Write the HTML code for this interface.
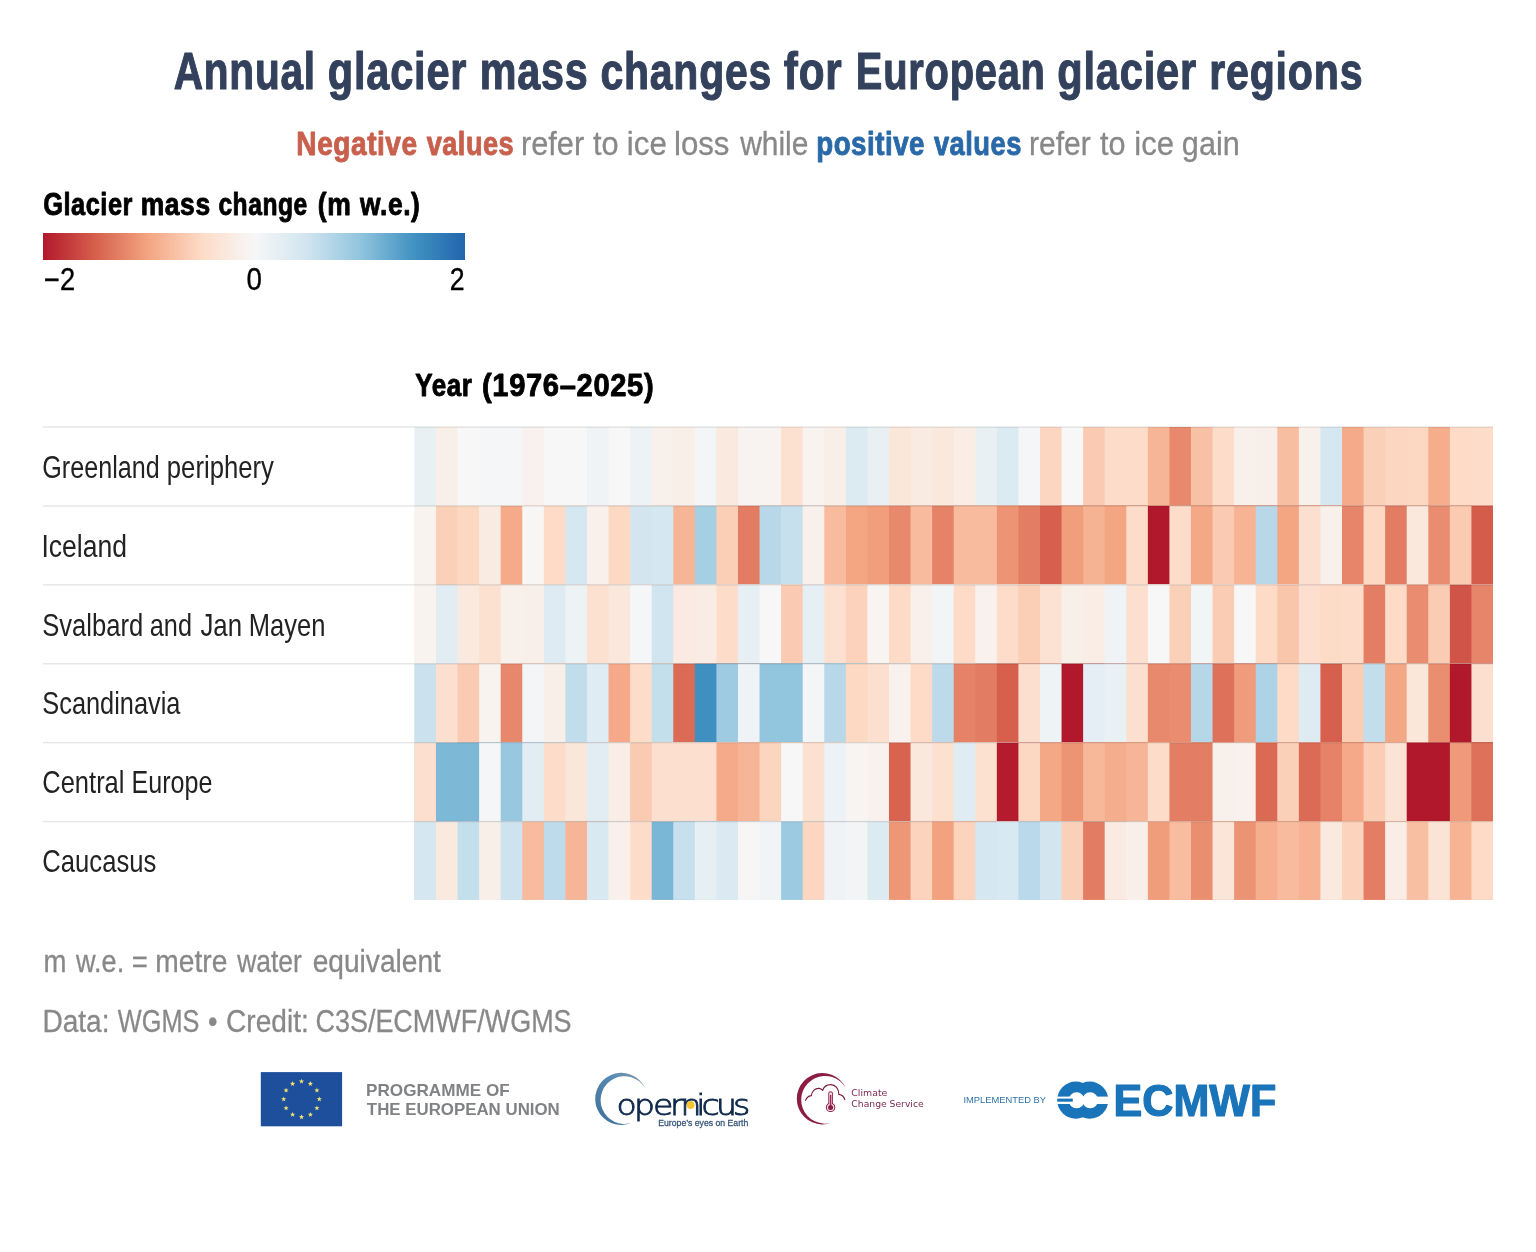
<!DOCTYPE html>
<html lang="en"><head><meta charset="utf-8"><title>Annual glacier mass changes for European glacier regions</title>
<style>html,body{margin:0;padding:0;background:#fff}body{width:1536px;height:1252px;overflow:hidden}svg{display:block}text{font-family:"Liberation Sans",sans-serif;white-space:pre}.b{font-weight:700}</style></head><body>
<svg width="1536" height="1252" viewBox="0 0 1536 1252">
<rect width="1536" height="1252" fill="#fff"/>
<defs><linearGradient id="g" x1="0" x2="1" y1="0" y2="0">
<stop offset="0" stop-color="#b2182b"/>
<stop offset="0.125" stop-color="#d6604d"/>
<stop offset="0.25" stop-color="#f4a582"/>
<stop offset="0.375" stop-color="#fddbc7"/>
<stop offset="0.5" stop-color="#f7f7f7"/>
<stop offset="0.625" stop-color="#d1e5f0"/>
<stop offset="0.75" stop-color="#92c5de"/>
<stop offset="0.875" stop-color="#4393c3"/>
<stop offset="1" stop-color="#2166ac"/>
</linearGradient></defs>
<g id="eu-flag">
<rect x="260.8" y="1072.1" width="81.3" height="54.2" fill="#1d4f9d"/>
<polygon points="301.50,1078.70 302.17,1080.48 304.07,1080.57 302.58,1081.75 303.09,1083.58 301.50,1082.53 299.91,1083.58 300.42,1081.75 298.93,1080.57 300.83,1080.48" fill="#f3e36d"/>
<polygon points="310.40,1081.08 311.07,1082.87 312.97,1082.95 311.48,1084.14 311.99,1085.97 310.40,1084.92 308.81,1085.97 309.32,1084.14 307.83,1082.95 309.73,1082.87" fill="#f3e36d"/>
<polygon points="316.92,1087.60 317.58,1089.38 319.48,1089.47 317.99,1090.65 318.50,1092.48 316.92,1091.43 315.33,1092.48 315.84,1090.65 314.35,1089.47 316.25,1089.38" fill="#f3e36d"/>
<polygon points="319.30,1096.50 319.97,1098.28 321.87,1098.37 320.38,1099.55 320.89,1101.38 319.30,1100.33 317.71,1101.38 318.22,1099.55 316.73,1098.37 318.63,1098.28" fill="#f3e36d"/>
<polygon points="316.92,1105.40 317.58,1107.18 319.48,1107.27 317.99,1108.45 318.50,1110.28 316.92,1109.23 315.33,1110.28 315.84,1108.45 314.35,1107.27 316.25,1107.18" fill="#f3e36d"/>
<polygon points="310.40,1111.92 311.07,1113.70 312.97,1113.78 311.48,1114.97 311.99,1116.80 310.40,1115.75 308.81,1116.80 309.32,1114.97 307.83,1113.78 309.73,1113.70" fill="#f3e36d"/>
<polygon points="301.50,1114.30 302.17,1116.08 304.07,1116.17 302.58,1117.35 303.09,1119.18 301.50,1118.13 299.91,1119.18 300.42,1117.35 298.93,1116.17 300.83,1116.08" fill="#f3e36d"/>
<polygon points="292.60,1111.92 293.27,1113.70 295.17,1113.78 293.68,1114.97 294.19,1116.80 292.60,1115.75 291.01,1116.80 291.52,1114.97 290.03,1113.78 291.93,1113.70" fill="#f3e36d"/>
<polygon points="286.08,1105.40 286.75,1107.18 288.65,1107.27 287.16,1108.45 287.67,1110.28 286.08,1109.23 284.50,1110.28 285.01,1108.45 283.52,1107.27 285.42,1107.18" fill="#f3e36d"/>
<polygon points="283.70,1096.50 284.37,1098.28 286.27,1098.37 284.78,1099.55 285.29,1101.38 283.70,1100.33 282.11,1101.38 282.62,1099.55 281.13,1098.37 283.03,1098.28" fill="#f3e36d"/>
<polygon points="286.08,1087.60 286.75,1089.38 288.65,1089.47 287.16,1090.65 287.67,1092.48 286.08,1091.43 284.50,1092.48 285.01,1090.65 283.52,1089.47 285.42,1089.38" fill="#f3e36d"/>
<polygon points="292.60,1081.08 293.27,1082.87 295.17,1082.95 293.68,1084.14 294.19,1085.97 292.60,1084.92 291.01,1085.97 291.52,1084.14 290.03,1082.95 291.93,1082.87" fill="#f3e36d"/>
</g>
<defs><linearGradient id="cg" x1="0" y1="1" x2="1" y2="0"><stop offset="0" stop-color="#3d6f98"/><stop offset="0.6" stop-color="#5489b3"/><stop offset="1" stop-color="#8a9aa8"/></linearGradient></defs>
<path d="M644.98 1087.93 A26.10 26.10 0 1 0 631.73 1122.83 A23.86 23.86 0 1 1 644.98 1087.93 Z" fill="url(#cg)"/>
<text transform="translate(0 1114.9) scale(1.17 1)" x="526.91 541.81 558.17 572.58 581.55 595.08 599.65 612.01 626.60" font-size="28.3" fill="#10294b" stroke="#10294b" stroke-width="0.85" style="font-family:'DejaVu Sans Light','DejaVu Sans',sans-serif;font-weight:200">opernicus</text>
<circle cx="690.6" cy="1105" r="3.9" fill="#f2c531"/>
<path d="M845.76 1088.05 A25.65 25.65 0 1 0 831.66 1122.69 A23.83 23.83 0 1 1 845.76 1088.05 Z" fill="#8b1c44"/>
<path d="M805.6 1100.4 C806.4 1097.6 808.6 1096.0 811.3 1095.6 C811.9 1091.0 815.4 1088.0 819.2 1088.4 C820.6 1088.6 821.8 1089.4 822.6 1090.5 C823.8 1086.8 827.0 1084.6 830.6 1084.6 C835.6 1084.6 838.8 1088.6 838.9 1094.4 C841.8 1094.9 844.0 1096.8 844.8 1099.6" fill="none" stroke="#7a1a3c" stroke-width="1.15" stroke-linecap="round" stroke-linejoin="round"/>
<path d="M830.6 1093.6 V1105" stroke="#8b1c44" stroke-width="4.6" stroke-linecap="round" fill="none"/>
<circle cx="830.6" cy="1107.4" r="4.7" fill="#8b1c44"/>
<path d="M830.6 1093.8 V1105.5" stroke="#f9dbe4" stroke-width="2.9" stroke-linecap="round" fill="none"/>
<circle cx="830.6" cy="1107.4" r="3.7" fill="#f9dbe4"/>
<path d="M830.6 1095.5 V1106" stroke="#9a2452" stroke-width="1.5" stroke-linecap="round" fill="none"/>
<circle cx="830.6" cy="1107.4" r="2.5" fill="#8b1c44"/>
<g id="ecmwf">
<circle cx="1075.8" cy="1100.1" r="18.6" fill="#1a74ba"/><circle cx="1089.7" cy="1100.1" r="18.6" fill="#1a74ba"/>
<circle cx="1076.6" cy="1100.3" r="8" fill="#fff"/><circle cx="1090.2" cy="1100.3" r="8" fill="#fff"/>
<rect x="1056" y="1096.6" width="18" height="7.4" fill="#fff"/>
<rect x="1094" y="1096.6" width="15" height="7.4" fill="#fff"/>
<rect x="1057.2" y="1098.6" width="15.6" height="3.1" fill="#1a74ba"/>
</g>
<text transform="translate(173.65 89.30) scale(0.7882 1)" font-size="51.5" fill="#33415c" class="b" stroke="#33415c" stroke-width="1.1" stroke-linejoin="round" style="letter-spacing:1px">Annual</text>
<text transform="translate(327.83 89.30) scale(0.8060 1)" font-size="51.5" fill="#33415c" class="b" stroke="#33415c" stroke-width="1.1" stroke-linejoin="round" style="letter-spacing:1px">glacier</text>
<text transform="translate(479.73 89.30) scale(0.8025 1)" font-size="51.5" fill="#33415c" class="b" stroke="#33415c" stroke-width="1.1" stroke-linejoin="round" style="letter-spacing:1px">mass</text>
<text transform="translate(600.45 89.30) scale(0.7949 1)" font-size="51.5" fill="#33415c" class="b" stroke="#33415c" stroke-width="1.1" stroke-linejoin="round" style="letter-spacing:1px">changes</text>
<text transform="translate(783.83 89.30) scale(0.8203 1)" font-size="51.5" fill="#33415c" class="b" stroke="#33415c" stroke-width="1.1" stroke-linejoin="round" style="letter-spacing:1px">for</text>
<text transform="translate(855.82 89.30) scale(0.7737 1)" font-size="51.5" fill="#33415c" class="b" stroke="#33415c" stroke-width="1.1" stroke-linejoin="round" style="letter-spacing:1px">European</text>
<text transform="translate(1057.23 89.30) scale(0.8077 1)" font-size="51.5" fill="#33415c" class="b" stroke="#33415c" stroke-width="1.1" stroke-linejoin="round" style="letter-spacing:1px">glacier</text>
<text transform="translate(1209.24 89.30) scale(0.7985 1)" font-size="51.5" fill="#33415c" class="b" stroke="#33415c" stroke-width="1.1" stroke-linejoin="round" style="letter-spacing:1px">regions</text>
<text transform="translate(296.37 155.10) scale(0.8523 1)" font-size="33" fill="#c8604d" class="b" stroke="#c8604d" stroke-width="0.9" stroke-linejoin="round" style="letter-spacing:0.6px">Negative</text>
<text transform="translate(426.66 155.10) scale(0.8236 1)" font-size="33" fill="#c8604d" class="b" stroke="#c8604d" stroke-width="0.9" stroke-linejoin="round" style="letter-spacing:0.6px">values</text>
<text transform="translate(520.94 155.10) scale(0.9319 1)" font-size="33" fill="#888888" stroke="#888888" stroke-width="0.3" stroke-linejoin="round">refer</text>
<text transform="translate(592.93 155.10) scale(0.9321 1)" font-size="33" fill="#888888" stroke="#888888" stroke-width="0.3" stroke-linejoin="round">to</text>
<text transform="translate(626.76 155.10) scale(0.9497 1)" font-size="33" fill="#888888" stroke="#888888" stroke-width="0.3" stroke-linejoin="round">ice</text>
<text transform="translate(674.02 155.10) scale(0.9451 1)" font-size="33" fill="#888888" stroke="#888888" stroke-width="0.3" stroke-linejoin="round">loss</text>
<text transform="translate(740.14 155.10) scale(0.9088 1)" font-size="33" fill="#888888" stroke="#888888" stroke-width="0.3" stroke-linejoin="round">while</text>
<text transform="translate(816.19 155.10) scale(0.8402 1)" font-size="33" fill="#2a69a8" class="b" stroke="#2a69a8" stroke-width="0.9" stroke-linejoin="round" style="letter-spacing:0.6px">positive</text>
<text transform="translate(933.92 155.10) scale(0.8279 1)" font-size="33" fill="#2a69a8" class="b" stroke="#2a69a8" stroke-width="0.9" stroke-linejoin="round" style="letter-spacing:0.6px">values</text>
<text transform="translate(1029.09 155.10) scale(0.9096 1)" font-size="33" fill="#888888" stroke="#888888" stroke-width="0.3" stroke-linejoin="round">refer</text>
<text transform="translate(1099.88 155.10) scale(0.9284 1)" font-size="33" fill="#888888" stroke="#888888" stroke-width="0.3" stroke-linejoin="round">to</text>
<text transform="translate(1134.28 155.10) scale(0.9394 1)" font-size="33" fill="#888888" stroke="#888888" stroke-width="0.3" stroke-linejoin="round">ice</text>
<text transform="translate(1181.85 155.10) scale(0.9280 1)" font-size="33" fill="#888888" stroke="#888888" stroke-width="0.3" stroke-linejoin="round">gain</text>
<text transform="translate(43.17 215.20) scale(0.7927 1)" font-size="32" fill="#000000" class="b" stroke="#000000" stroke-width="0.9" stroke-linejoin="round" style="letter-spacing:0.7px">Glacier</text>
<text transform="translate(140.71 215.20) scale(0.8269 1)" font-size="32" fill="#000000" class="b" stroke="#000000" stroke-width="0.9" stroke-linejoin="round" style="letter-spacing:0.7px">mass</text>
<text transform="translate(218.38 215.20) scale(0.7700 1)" font-size="32" fill="#000000" class="b" stroke="#000000" stroke-width="0.9" stroke-linejoin="round" style="letter-spacing:0.7px">change</text>
<text transform="translate(317.73 215.20) scale(0.8291 1)" font-size="32" fill="#000000" class="b" stroke="#000000" stroke-width="0.9" stroke-linejoin="round" style="letter-spacing:0.7px">(m</text>
<text transform="translate(359.97 215.20) scale(0.8234 1)" font-size="32" fill="#000000" class="b" stroke="#000000" stroke-width="0.9" stroke-linejoin="round" style="letter-spacing:0.7px">w.e.)</text>
<text transform="translate(44.01 290.00) scale(0.8972 1)" font-size="30.5" fill="#000000" stroke="#000000" stroke-width="0.35" stroke-linejoin="round">−2</text>
<text transform="translate(246.42 290.00) scale(0.9091 1)" font-size="30.5" fill="#000000" stroke="#000000" stroke-width="0.35" stroke-linejoin="round">0</text>
<text transform="translate(449.84 290.00) scale(0.8780 1)" font-size="30.5" fill="#000000" stroke="#000000" stroke-width="0.35" stroke-linejoin="round">2</text>
<text transform="translate(415.26 396.00) scale(0.8141 1)" font-size="32" fill="#000000" class="b" stroke="#000000" stroke-width="0.9" stroke-linejoin="round" style="letter-spacing:0.7px">Year</text>
<text transform="translate(481.94 396.00) scale(0.9111 1)" font-size="32" fill="#000000" class="b" stroke="#000000" stroke-width="0.9" stroke-linejoin="round" style="letter-spacing:0.7px">(1976–2025)</text>
<text transform="translate(42.28 477.90) scale(0.8113 1)" font-size="31" fill="#222222">Greenland</text>
<text transform="translate(166.84 477.90) scale(0.8287 1)" font-size="31" fill="#222222">periphery</text>
<text transform="translate(41.44 556.75) scale(0.8567 1)" font-size="31" fill="#222222">Iceland</text>
<text transform="translate(42.26 635.60) scale(0.8253 1)" font-size="31" fill="#222222">Svalbard</text>
<text transform="translate(149.78 635.60) scale(0.8165 1)" font-size="31" fill="#222222">and</text>
<text transform="translate(200.38 635.60) scale(0.8337 1)" font-size="31" fill="#222222">Jan</text>
<text transform="translate(248.74 635.60) scale(0.8243 1)" font-size="31" fill="#222222">Mayen</text>
<text transform="translate(42.37 714.45) scale(0.8179 1)" font-size="31" fill="#222222">Scandinavia</text>
<text transform="translate(42.27 793.30) scale(0.8229 1)" font-size="31" fill="#222222">Central</text>
<text transform="translate(131.48 793.30) scale(0.8099 1)" font-size="31" fill="#222222">Europe</text>
<text transform="translate(42.36 872.15) scale(0.8266 1)" font-size="31" fill="#222222">Caucasus</text>
<text transform="translate(43.46 972.20) scale(0.8882 1)" font-size="31" fill="#888888" stroke="#888888" stroke-width="0.3" stroke-linejoin="round">m</text>
<text transform="translate(76.03 972.20) scale(0.8735 1)" font-size="31" fill="#888888" stroke="#888888" stroke-width="0.3" stroke-linejoin="round">w.e.</text>
<text transform="translate(131.86 972.20) scale(0.8882 1)" font-size="31" fill="#888888" stroke="#888888" stroke-width="0.3" stroke-linejoin="round">=</text>
<text transform="translate(155.31 972.20) scale(0.9112 1)" font-size="31" fill="#888888" stroke="#888888" stroke-width="0.3" stroke-linejoin="round">metre</text>
<text transform="translate(237.13 972.20) scale(0.8537 1)" font-size="31" fill="#888888" stroke="#888888" stroke-width="0.3" stroke-linejoin="round">water</text>
<text transform="translate(312.70 972.20) scale(0.9073 1)" font-size="31" fill="#888888" stroke="#888888" stroke-width="0.3" stroke-linejoin="round">equivalent</text>
<text transform="translate(42.47 1032.00) scale(0.9051 1)" font-size="31" fill="#888888" stroke="#888888" stroke-width="0.3" stroke-linejoin="round">Data:</text>
<text transform="translate(117.82 1032.00) scale(0.8168 1)" font-size="31" fill="#888888" stroke="#888888" stroke-width="0.3" stroke-linejoin="round">WGMS</text>
<text transform="translate(207.93 1032.00) scale(0.8692 1)" font-size="31" fill="#888888" stroke="#888888" stroke-width="0.3" stroke-linejoin="round">•</text>
<text transform="translate(226.08 1032.00) scale(0.9061 1)" font-size="31" fill="#888888" stroke="#888888" stroke-width="0.3" stroke-linejoin="round">Credit:</text>
<text transform="translate(315.43 1032.00) scale(0.8701 1)" font-size="31" fill="#888888" stroke="#888888" stroke-width="0.3" stroke-linejoin="round">C3S/ECMWF/WGMS</text>
<text transform="translate(366.07 1095.80) scale(1.0320 1)" font-size="16.6" fill="#808285" class="b">PROGRAMME OF</text>
<text transform="translate(366.85 1115.40) scale(1.0167 1)" font-size="16.6" fill="#808285" class="b">THE EUROPEAN UNION</text>
<text transform="translate(658.25 1125.80) scale(0.9144 1)" font-size="9.5" fill="#35557a" stroke="#35557a" stroke-width="0.3" stroke-linejoin="round">Europe’s eyes on Earth</text>
<text transform="translate(851.33 1095.90) scale(1.1443 1)" font-size="8.2" fill="#7d2a4e" style="font-family:'DejaVu Sans',sans-serif">Climate</text>
<text transform="translate(851.34 1107.40) scale(1.1273 1)" font-size="8.2" fill="#7d2a4e" style="font-family:'DejaVu Sans',sans-serif">Change Service</text>
<text transform="translate(963.44 1103.20) scale(0.9638 1)" font-size="9.7" fill="#2f72a6">IMPLEMENTED BY</text>
<text transform="translate(1113.62 1116.00) scale(0.9904 1)" font-size="43.5" fill="#1a74ba" class="b" stroke="#1a74ba" stroke-width="1.2" stroke-linejoin="round">ECMWF</text>
<rect x="43" y="233" width="422" height="27" fill="url(#g)"/>
<g>
<rect x="414.40" y="427.00" width="1078.60" height="472.90" fill="#e8f0f4"/>
<rect x="435.97" y="427.00" width="1057.03" height="472.90" fill="#f9efe9"/>
<rect x="457.54" y="427.00" width="1035.46" height="472.90" fill="#f7f7f7"/>
<rect x="479.12" y="427.00" width="1013.88" height="472.90" fill="#f5f6f7"/>
<rect x="500.69" y="427.00" width="992.31" height="472.90" fill="#f5f6f7"/>
<rect x="522.26" y="427.00" width="970.74" height="472.90" fill="#f8f1ed"/>
<rect x="543.83" y="427.00" width="949.17" height="472.90" fill="#f7f7f7"/>
<rect x="565.40" y="427.00" width="927.60" height="472.90" fill="#f7f7f7"/>
<rect x="586.98" y="427.00" width="906.02" height="472.90" fill="#eff3f6"/>
<rect x="608.55" y="427.00" width="884.45" height="472.90" fill="#f7f7f7"/>
<rect x="630.12" y="427.00" width="862.88" height="472.90" fill="#ecf2f5"/>
<rect x="651.69" y="427.00" width="841.31" height="472.90" fill="#f8f0eb"/>
<rect x="673.26" y="427.00" width="819.74" height="472.90" fill="#f9efe9"/>
<rect x="694.84" y="427.00" width="798.16" height="472.90" fill="#f3f5f6"/>
<rect x="716.41" y="427.00" width="776.59" height="472.90" fill="#fae9df"/>
<rect x="737.98" y="427.00" width="755.02" height="472.90" fill="#f8f3f0"/>
<rect x="759.55" y="427.00" width="733.45" height="472.90" fill="#f8f3f0"/>
<rect x="781.12" y="427.00" width="711.88" height="472.90" fill="#fce1d1"/>
<rect x="802.70" y="427.00" width="690.30" height="472.90" fill="#f8f3ef"/>
<rect x="824.27" y="427.00" width="668.73" height="472.90" fill="#f9efe9"/>
<rect x="845.84" y="427.00" width="647.16" height="472.90" fill="#dceaf2"/>
<rect x="867.41" y="427.00" width="625.59" height="472.90" fill="#e8f0f4"/>
<rect x="888.98" y="427.00" width="604.02" height="472.90" fill="#fbe6da"/>
<rect x="910.56" y="427.00" width="582.44" height="472.90" fill="#faebe2"/>
<rect x="932.13" y="427.00" width="560.87" height="472.90" fill="#fae8dd"/>
<rect x="953.70" y="427.00" width="539.30" height="472.90" fill="#f9ede6"/>
<rect x="975.27" y="427.00" width="517.73" height="472.90" fill="#e8f0f4"/>
<rect x="996.84" y="427.00" width="496.16" height="472.90" fill="#dceaf2"/>
<rect x="1018.42" y="427.00" width="474.58" height="472.90" fill="#f5f6f7"/>
<rect x="1039.99" y="427.00" width="453.01" height="472.90" fill="#fcd6c0"/>
<rect x="1061.56" y="427.00" width="431.44" height="472.90" fill="#f7f7f7"/>
<rect x="1083.13" y="427.00" width="409.87" height="472.90" fill="#facbb2"/>
<rect x="1104.70" y="427.00" width="388.30" height="472.90" fill="#fddcc9"/>
<rect x="1126.28" y="427.00" width="366.72" height="472.90" fill="#fddcc9"/>
<rect x="1147.85" y="427.00" width="345.15" height="472.90" fill="#f7b597"/>
<rect x="1169.42" y="427.00" width="323.58" height="472.90" fill="#e8896d"/>
<rect x="1190.99" y="427.00" width="302.01" height="472.90" fill="#f8c0a4"/>
<rect x="1212.56" y="427.00" width="280.44" height="472.90" fill="#fddcc9"/>
<rect x="1234.14" y="427.00" width="258.86" height="472.90" fill="#f8f0eb"/>
<rect x="1255.71" y="427.00" width="237.29" height="472.90" fill="#f9efea"/>
<rect x="1277.28" y="427.00" width="215.72" height="472.90" fill="#f8bea2"/>
<rect x="1298.85" y="427.00" width="194.15" height="472.90" fill="#f8f0eb"/>
<rect x="1320.42" y="427.00" width="172.58" height="472.90" fill="#d5e7f1"/>
<rect x="1342.00" y="427.00" width="151.00" height="472.90" fill="#f5aa89"/>
<rect x="1363.57" y="427.00" width="129.43" height="472.90" fill="#fbd0b9"/>
<rect x="1385.14" y="427.00" width="107.86" height="472.90" fill="#fcd6c0"/>
<rect x="1406.71" y="427.00" width="86.29" height="472.90" fill="#fcd7c1"/>
<rect x="1428.28" y="427.00" width="64.72" height="472.90" fill="#f5ad8c"/>
<rect x="1449.86" y="427.00" width="43.14" height="472.90" fill="#fddbc7"/>
<rect x="1471.43" y="427.00" width="21.57" height="472.90" fill="#fddcc9"/>
<rect x="414.40" y="505.92" width="1078.60" height="393.98" fill="#f8f3ef"/>
<rect x="435.97" y="505.92" width="1057.03" height="393.98" fill="#fbd0b9"/>
<rect x="457.54" y="505.92" width="1035.46" height="393.98" fill="#fcd8c3"/>
<rect x="479.12" y="505.92" width="1013.88" height="393.98" fill="#faebe2"/>
<rect x="500.69" y="505.92" width="992.31" height="393.98" fill="#f5aa89"/>
<rect x="522.26" y="505.92" width="970.74" height="393.98" fill="#f7f6f5"/>
<rect x="543.83" y="505.92" width="949.17" height="393.98" fill="#fddbc7"/>
<rect x="565.40" y="505.92" width="927.60" height="393.98" fill="#d5e7f1"/>
<rect x="586.98" y="505.92" width="906.02" height="393.98" fill="#f9f0eb"/>
<rect x="608.55" y="505.92" width="884.45" height="393.98" fill="#fdd9c4"/>
<rect x="630.12" y="505.92" width="862.88" height="393.98" fill="#d3e6f0"/>
<rect x="651.69" y="505.92" width="841.31" height="393.98" fill="#d5e7f1"/>
<rect x="673.26" y="505.92" width="819.74" height="393.98" fill="#f7b597"/>
<rect x="694.84" y="505.92" width="798.16" height="393.98" fill="#a5cfe3"/>
<rect x="716.41" y="505.92" width="776.59" height="393.98" fill="#fbceb6"/>
<rect x="737.98" y="505.92" width="755.02" height="393.98" fill="#e27c62"/>
<rect x="759.55" y="505.92" width="733.45" height="393.98" fill="#b8d8e9"/>
<rect x="781.12" y="505.92" width="711.88" height="393.98" fill="#c7e0ed"/>
<rect x="802.70" y="505.92" width="690.30" height="393.98" fill="#f9f0eb"/>
<rect x="824.27" y="505.92" width="668.73" height="393.98" fill="#f8bb9e"/>
<rect x="845.84" y="505.92" width="647.16" height="393.98" fill="#f4a582"/>
<rect x="867.41" y="505.92" width="625.59" height="393.98" fill="#f19e7d"/>
<rect x="888.98" y="505.92" width="604.02" height="393.98" fill="#e8896d"/>
<rect x="910.56" y="505.92" width="582.44" height="393.98" fill="#f8bb9e"/>
<rect x="932.13" y="505.92" width="560.87" height="393.98" fill="#e58268"/>
<rect x="953.70" y="505.92" width="539.30" height="393.98" fill="#f8bb9e"/>
<rect x="975.27" y="505.92" width="517.73" height="393.98" fill="#f8bb9e"/>
<rect x="996.84" y="505.92" width="496.16" height="393.98" fill="#ed9475"/>
<rect x="1018.42" y="505.92" width="474.58" height="393.98" fill="#e37e64"/>
<rect x="1039.99" y="505.92" width="453.01" height="393.98" fill="#d6604d"/>
<rect x="1061.56" y="505.92" width="431.44" height="393.98" fill="#f19e7d"/>
<rect x="1083.13" y="505.92" width="409.87" height="393.98" fill="#f6b394"/>
<rect x="1104.70" y="505.92" width="388.30" height="393.98" fill="#f4a582"/>
<rect x="1126.28" y="505.92" width="366.72" height="393.98" fill="#fddcc9"/>
<rect x="1147.85" y="505.92" width="345.15" height="393.98" fill="#b2182b"/>
<rect x="1169.42" y="505.92" width="323.58" height="393.98" fill="#fddcc9"/>
<rect x="1190.99" y="505.92" width="302.01" height="393.98" fill="#f5a886"/>
<rect x="1212.56" y="505.92" width="280.44" height="393.98" fill="#facbb2"/>
<rect x="1234.14" y="505.92" width="258.86" height="393.98" fill="#f7b495"/>
<rect x="1255.71" y="505.92" width="237.29" height="393.98" fill="#b8d8e9"/>
<rect x="1277.28" y="505.92" width="215.72" height="393.98" fill="#f4a582"/>
<rect x="1298.85" y="505.92" width="194.15" height="393.98" fill="#fcdfce"/>
<rect x="1320.42" y="505.92" width="172.58" height="393.98" fill="#f8f0eb"/>
<rect x="1342.00" y="505.92" width="151.00" height="393.98" fill="#e6856a"/>
<rect x="1363.57" y="505.92" width="129.43" height="393.98" fill="#fdd9c4"/>
<rect x="1385.14" y="505.92" width="107.86" height="393.98" fill="#e27c62"/>
<rect x="1406.71" y="505.92" width="86.29" height="393.98" fill="#fae8dd"/>
<rect x="1428.28" y="505.92" width="64.72" height="393.98" fill="#e98c6f"/>
<rect x="1449.86" y="505.92" width="43.14" height="393.98" fill="#facab1"/>
<rect x="1471.43" y="505.92" width="21.57" height="393.98" fill="#d45c4b"/>
<rect x="414.40" y="584.84" width="1078.60" height="315.06" fill="#f8f3ef"/>
<rect x="435.97" y="584.84" width="1057.03" height="315.06" fill="#e2edf3"/>
<rect x="457.54" y="584.84" width="1035.46" height="315.06" fill="#fae9df"/>
<rect x="479.12" y="584.84" width="1013.88" height="315.06" fill="#fce1d1"/>
<rect x="500.69" y="584.84" width="992.31" height="315.06" fill="#f8f0eb"/>
<rect x="522.26" y="584.84" width="970.74" height="315.06" fill="#f9efe9"/>
<rect x="543.83" y="584.84" width="949.17" height="315.06" fill="#dfebf3"/>
<rect x="565.40" y="584.84" width="927.60" height="315.06" fill="#edf2f5"/>
<rect x="586.98" y="584.84" width="906.02" height="315.06" fill="#fce1d1"/>
<rect x="608.55" y="584.84" width="884.45" height="315.06" fill="#fae8dd"/>
<rect x="630.12" y="584.84" width="862.88" height="315.06" fill="#f5f6f7"/>
<rect x="651.69" y="584.84" width="841.31" height="315.06" fill="#d1e5f0"/>
<rect x="673.26" y="584.84" width="819.74" height="315.06" fill="#faeae1"/>
<rect x="694.84" y="584.84" width="798.16" height="315.06" fill="#f9ece4"/>
<rect x="716.41" y="584.84" width="776.59" height="315.06" fill="#fdddca"/>
<rect x="737.98" y="584.84" width="755.02" height="315.06" fill="#e6eff4"/>
<rect x="759.55" y="584.84" width="733.45" height="315.06" fill="#f7f7f7"/>
<rect x="781.12" y="584.84" width="711.88" height="315.06" fill="#facbb2"/>
<rect x="802.70" y="584.84" width="690.30" height="315.06" fill="#e6eff4"/>
<rect x="824.27" y="584.84" width="668.73" height="315.06" fill="#fce1d1"/>
<rect x="845.84" y="584.84" width="647.16" height="315.06" fill="#fcd2bc"/>
<rect x="867.41" y="584.84" width="625.59" height="315.06" fill="#f8f4f1"/>
<rect x="888.98" y="584.84" width="604.02" height="315.06" fill="#fddbc7"/>
<rect x="910.56" y="584.84" width="582.44" height="315.06" fill="#f9f0eb"/>
<rect x="932.13" y="584.84" width="560.87" height="315.06" fill="#f2f5f6"/>
<rect x="953.70" y="584.84" width="539.30" height="315.06" fill="#fddbc7"/>
<rect x="975.27" y="584.84" width="517.73" height="315.06" fill="#f8f1ed"/>
<rect x="996.84" y="584.84" width="496.16" height="315.06" fill="#fdddca"/>
<rect x="1018.42" y="584.84" width="474.58" height="315.06" fill="#fbceb6"/>
<rect x="1039.99" y="584.84" width="453.01" height="315.06" fill="#fce2d3"/>
<rect x="1061.56" y="584.84" width="431.44" height="315.06" fill="#f9efe9"/>
<rect x="1083.13" y="584.84" width="409.87" height="315.06" fill="#f9ede6"/>
<rect x="1104.70" y="584.84" width="388.30" height="315.06" fill="#eff3f6"/>
<rect x="1126.28" y="584.84" width="366.72" height="315.06" fill="#fcdfcf"/>
<rect x="1147.85" y="584.84" width="345.15" height="315.06" fill="#f7f7f7"/>
<rect x="1169.42" y="584.84" width="323.58" height="315.06" fill="#fbd0b9"/>
<rect x="1190.99" y="584.84" width="302.01" height="315.06" fill="#f2f5f6"/>
<rect x="1212.56" y="584.84" width="280.44" height="315.06" fill="#faccb4"/>
<rect x="1234.14" y="584.84" width="258.86" height="315.06" fill="#f7f7f7"/>
<rect x="1255.71" y="584.84" width="237.29" height="315.06" fill="#fddbc7"/>
<rect x="1277.28" y="584.84" width="215.72" height="315.06" fill="#f9c5ab"/>
<rect x="1298.85" y="584.84" width="194.15" height="315.06" fill="#fcdfcf"/>
<rect x="1320.42" y="584.84" width="172.58" height="315.06" fill="#fddbc7"/>
<rect x="1342.00" y="584.84" width="151.00" height="315.06" fill="#fdddca"/>
<rect x="1363.57" y="584.84" width="129.43" height="315.06" fill="#e37e64"/>
<rect x="1385.14" y="584.84" width="107.86" height="315.06" fill="#fddbc7"/>
<rect x="1406.71" y="584.84" width="86.29" height="315.06" fill="#e98c6f"/>
<rect x="1428.28" y="584.84" width="64.72" height="315.06" fill="#faccb4"/>
<rect x="1449.86" y="584.84" width="43.14" height="315.06" fill="#d05448"/>
<rect x="1471.43" y="584.84" width="21.57" height="315.06" fill="#e6856a"/>
<rect x="414.40" y="663.76" width="1078.60" height="236.14" fill="#cbe2ee"/>
<rect x="435.97" y="663.76" width="1057.03" height="236.14" fill="#fcdfcf"/>
<rect x="457.54" y="663.76" width="1035.46" height="236.14" fill="#facbb2"/>
<rect x="479.12" y="663.76" width="1013.88" height="236.14" fill="#f8f3ef"/>
<rect x="500.69" y="663.76" width="992.31" height="236.14" fill="#e7876b"/>
<rect x="522.26" y="663.76" width="970.74" height="236.14" fill="#f3f5f6"/>
<rect x="543.83" y="663.76" width="949.17" height="236.14" fill="#f9efe9"/>
<rect x="565.40" y="663.76" width="927.60" height="236.14" fill="#c1ddeb"/>
<rect x="586.98" y="663.76" width="906.02" height="236.14" fill="#e0ecf3"/>
<rect x="608.55" y="663.76" width="884.45" height="236.14" fill="#f5a988"/>
<rect x="630.12" y="663.76" width="862.88" height="236.14" fill="#fdddca"/>
<rect x="651.69" y="663.76" width="841.31" height="236.14" fill="#c4dfec"/>
<rect x="673.26" y="663.76" width="819.74" height="236.14" fill="#db6b55"/>
<rect x="694.84" y="663.76" width="798.16" height="236.14" fill="#408fc1"/>
<rect x="716.41" y="663.76" width="776.59" height="236.14" fill="#9fcbe2"/>
<rect x="737.98" y="663.76" width="755.02" height="236.14" fill="#eff3f6"/>
<rect x="759.55" y="663.76" width="733.45" height="236.14" fill="#92c5de"/>
<rect x="781.12" y="663.76" width="711.88" height="236.14" fill="#92c5de"/>
<rect x="802.70" y="663.76" width="690.30" height="236.14" fill="#f3f5f6"/>
<rect x="824.27" y="663.76" width="668.73" height="236.14" fill="#b8d8e9"/>
<rect x="845.84" y="663.76" width="647.16" height="236.14" fill="#fdd9c4"/>
<rect x="867.41" y="663.76" width="625.59" height="236.14" fill="#fcdfcf"/>
<rect x="888.98" y="663.76" width="604.02" height="236.14" fill="#f8f1ed"/>
<rect x="910.56" y="663.76" width="582.44" height="236.14" fill="#fddbc7"/>
<rect x="932.13" y="663.76" width="560.87" height="236.14" fill="#bcdaea"/>
<rect x="953.70" y="663.76" width="539.30" height="236.14" fill="#e58268"/>
<rect x="975.27" y="663.76" width="517.73" height="236.14" fill="#e27c62"/>
<rect x="996.84" y="663.76" width="496.16" height="236.14" fill="#d6604d"/>
<rect x="1018.42" y="663.76" width="474.58" height="236.14" fill="#fcdfcf"/>
<rect x="1039.99" y="663.76" width="453.01" height="236.14" fill="#eef3f5"/>
<rect x="1061.56" y="663.76" width="431.44" height="236.14" fill="#b2182b"/>
<rect x="1083.13" y="663.76" width="409.87" height="236.14" fill="#e4eef4"/>
<rect x="1104.70" y="663.76" width="388.30" height="236.14" fill="#eaf1f5"/>
<rect x="1126.28" y="663.76" width="366.72" height="236.14" fill="#fcdfcf"/>
<rect x="1147.85" y="663.76" width="345.15" height="236.14" fill="#e8896d"/>
<rect x="1169.42" y="663.76" width="323.58" height="236.14" fill="#e98c6f"/>
<rect x="1190.99" y="663.76" width="302.01" height="236.14" fill="#b5d7e8"/>
<rect x="1212.56" y="663.76" width="280.44" height="236.14" fill="#dd715a"/>
<rect x="1234.14" y="663.76" width="258.86" height="236.14" fill="#f09b7b"/>
<rect x="1255.71" y="663.76" width="237.29" height="236.14" fill="#aed3e6"/>
<rect x="1277.28" y="663.76" width="215.72" height="236.14" fill="#fddbc7"/>
<rect x="1298.85" y="663.76" width="194.15" height="236.14" fill="#deebf2"/>
<rect x="1320.42" y="663.76" width="172.58" height="236.14" fill="#d6604d"/>
<rect x="1342.00" y="663.76" width="151.00" height="236.14" fill="#fbcdb5"/>
<rect x="1363.57" y="663.76" width="129.43" height="236.14" fill="#c2ddec"/>
<rect x="1385.14" y="663.76" width="107.86" height="236.14" fill="#f4a785"/>
<rect x="1406.71" y="663.76" width="86.29" height="236.14" fill="#fbe6da"/>
<rect x="1428.28" y="663.76" width="64.72" height="236.14" fill="#ea8e70"/>
<rect x="1449.86" y="663.76" width="43.14" height="236.14" fill="#b2182b"/>
<rect x="1471.43" y="663.76" width="21.57" height="236.14" fill="#fcdfcf"/>
<rect x="414.40" y="742.68" width="1078.60" height="157.22" fill="#fcdfcf"/>
<rect x="435.97" y="742.68" width="1057.03" height="157.22" fill="#7db8d7"/>
<rect x="457.54" y="742.68" width="1035.46" height="157.22" fill="#7db8d7"/>
<rect x="479.12" y="742.68" width="1013.88" height="157.22" fill="#f5f6f7"/>
<rect x="500.69" y="742.68" width="992.31" height="157.22" fill="#98c8e0"/>
<rect x="522.26" y="742.68" width="970.74" height="157.22" fill="#e2edf3"/>
<rect x="543.83" y="742.68" width="949.17" height="157.22" fill="#fdddca"/>
<rect x="565.40" y="742.68" width="927.60" height="157.22" fill="#fbe6da"/>
<rect x="586.98" y="742.68" width="906.02" height="157.22" fill="#e2edf3"/>
<rect x="608.55" y="742.68" width="884.45" height="157.22" fill="#f9ede6"/>
<rect x="630.12" y="742.68" width="862.88" height="157.22" fill="#facab1"/>
<rect x="651.69" y="742.68" width="841.31" height="157.22" fill="#fcdfcf"/>
<rect x="673.26" y="742.68" width="819.74" height="157.22" fill="#fcdfcf"/>
<rect x="694.84" y="742.68" width="798.16" height="157.22" fill="#fcdfcf"/>
<rect x="716.41" y="742.68" width="776.59" height="157.22" fill="#f5ab8a"/>
<rect x="737.98" y="742.68" width="755.02" height="157.22" fill="#f7b597"/>
<rect x="759.55" y="742.68" width="733.45" height="157.22" fill="#fcd5bf"/>
<rect x="781.12" y="742.68" width="711.88" height="157.22" fill="#f7f7f7"/>
<rect x="802.70" y="742.68" width="690.30" height="157.22" fill="#fce1d1"/>
<rect x="824.27" y="742.68" width="668.73" height="157.22" fill="#ecf2f5"/>
<rect x="845.84" y="742.68" width="647.16" height="157.22" fill="#f8f4f2"/>
<rect x="867.41" y="742.68" width="625.59" height="157.22" fill="#f8f1ed"/>
<rect x="888.98" y="742.68" width="604.02" height="157.22" fill="#d86450"/>
<rect x="910.56" y="742.68" width="582.44" height="157.22" fill="#fae8dd"/>
<rect x="932.13" y="742.68" width="560.87" height="157.22" fill="#fce1d1"/>
<rect x="953.70" y="742.68" width="539.30" height="157.22" fill="#e0ecf3"/>
<rect x="975.27" y="742.68" width="517.73" height="157.22" fill="#fce1d1"/>
<rect x="996.84" y="742.68" width="496.16" height="157.22" fill="#b41c2d"/>
<rect x="1018.42" y="742.68" width="474.58" height="157.22" fill="#fcd8c3"/>
<rect x="1039.99" y="742.68" width="453.01" height="157.22" fill="#f5a886"/>
<rect x="1061.56" y="742.68" width="431.44" height="157.22" fill="#ed9475"/>
<rect x="1083.13" y="742.68" width="409.87" height="157.22" fill="#f7b799"/>
<rect x="1104.70" y="742.68" width="388.30" height="157.22" fill="#f5ae8d"/>
<rect x="1126.28" y="742.68" width="366.72" height="157.22" fill="#f7b597"/>
<rect x="1147.85" y="742.68" width="345.15" height="157.22" fill="#fdddca"/>
<rect x="1169.42" y="742.68" width="323.58" height="157.22" fill="#e37e64"/>
<rect x="1190.99" y="742.68" width="302.01" height="157.22" fill="#e37e64"/>
<rect x="1212.56" y="742.68" width="280.44" height="157.22" fill="#f8f0eb"/>
<rect x="1234.14" y="742.68" width="258.86" height="157.22" fill="#f8f1ed"/>
<rect x="1255.71" y="742.68" width="237.29" height="157.22" fill="#da6a54"/>
<rect x="1277.28" y="742.68" width="215.72" height="157.22" fill="#fbd0b9"/>
<rect x="1298.85" y="742.68" width="194.15" height="157.22" fill="#db6b55"/>
<rect x="1320.42" y="742.68" width="172.58" height="157.22" fill="#e58268"/>
<rect x="1342.00" y="742.68" width="151.00" height="157.22" fill="#f5a988"/>
<rect x="1363.57" y="742.68" width="129.43" height="157.22" fill="#fbcdb5"/>
<rect x="1385.14" y="742.68" width="107.86" height="157.22" fill="#fbe3d5"/>
<rect x="1406.71" y="742.68" width="86.29" height="157.22" fill="#b2182b"/>
<rect x="1428.28" y="742.68" width="64.72" height="157.22" fill="#b2182b"/>
<rect x="1449.86" y="742.68" width="43.14" height="157.22" fill="#ef9a7a"/>
<rect x="1471.43" y="742.68" width="21.57" height="157.22" fill="#dd715a"/>
<rect x="414.40" y="821.60" width="1078.60" height="78.30" fill="#d5e7f1"/>
<rect x="435.97" y="821.60" width="1057.03" height="78.30" fill="#fae9df"/>
<rect x="457.54" y="821.60" width="1035.46" height="78.30" fill="#c4dfec"/>
<rect x="479.12" y="821.60" width="1013.88" height="78.30" fill="#f9efe9"/>
<rect x="500.69" y="821.60" width="992.31" height="78.30" fill="#cde3ef"/>
<rect x="522.26" y="821.60" width="970.74" height="78.30" fill="#f8bb9e"/>
<rect x="543.83" y="821.60" width="949.17" height="78.30" fill="#bedbeb"/>
<rect x="565.40" y="821.60" width="927.60" height="78.30" fill="#f7b597"/>
<rect x="586.98" y="821.60" width="906.02" height="78.30" fill="#d9e9f1"/>
<rect x="608.55" y="821.60" width="884.45" height="78.30" fill="#f9f0eb"/>
<rect x="630.12" y="821.60" width="862.88" height="78.30" fill="#fdddca"/>
<rect x="651.69" y="821.60" width="841.31" height="78.30" fill="#7ab6d6"/>
<rect x="673.26" y="821.60" width="819.74" height="78.30" fill="#c7e0ed"/>
<rect x="694.84" y="821.60" width="798.16" height="78.30" fill="#e6eff4"/>
<rect x="716.41" y="821.60" width="776.59" height="78.30" fill="#dae9f2"/>
<rect x="737.98" y="821.60" width="755.02" height="78.30" fill="#f7f6f5"/>
<rect x="759.55" y="821.60" width="733.45" height="78.30" fill="#f1f4f6"/>
<rect x="781.12" y="821.60" width="711.88" height="78.30" fill="#9ccae1"/>
<rect x="802.70" y="821.60" width="690.30" height="78.30" fill="#fcd6c0"/>
<rect x="824.27" y="821.60" width="668.73" height="78.30" fill="#eff3f6"/>
<rect x="845.84" y="821.60" width="647.16" height="78.30" fill="#f2f4f6"/>
<rect x="867.41" y="821.60" width="625.59" height="78.30" fill="#dceaf2"/>
<rect x="888.98" y="821.60" width="604.02" height="78.30" fill="#ee9777"/>
<rect x="910.56" y="821.60" width="582.44" height="78.30" fill="#fcd3bd"/>
<rect x="932.13" y="821.60" width="560.87" height="78.30" fill="#f3a280"/>
<rect x="953.70" y="821.60" width="539.30" height="78.30" fill="#fcd3bd"/>
<rect x="975.27" y="821.60" width="517.73" height="78.30" fill="#d5e7f1"/>
<rect x="996.84" y="821.60" width="496.16" height="78.30" fill="#d9e9f1"/>
<rect x="1018.42" y="821.60" width="474.58" height="78.30" fill="#bad9ea"/>
<rect x="1039.99" y="821.60" width="453.01" height="78.30" fill="#d3e6f0"/>
<rect x="1061.56" y="821.60" width="431.44" height="78.30" fill="#fbd0b9"/>
<rect x="1083.13" y="821.60" width="409.87" height="78.30" fill="#e27c62"/>
<rect x="1104.70" y="821.60" width="388.30" height="78.30" fill="#faeae1"/>
<rect x="1126.28" y="821.60" width="366.72" height="78.30" fill="#f9efea"/>
<rect x="1147.85" y="821.60" width="345.15" height="78.30" fill="#f09d7c"/>
<rect x="1169.42" y="821.60" width="323.58" height="78.30" fill="#f8bc9f"/>
<rect x="1190.99" y="821.60" width="302.01" height="78.30" fill="#ea8e70"/>
<rect x="1212.56" y="821.60" width="280.44" height="78.30" fill="#fbe5d8"/>
<rect x="1234.14" y="821.60" width="258.86" height="78.30" fill="#ec9374"/>
<rect x="1255.71" y="821.60" width="237.29" height="78.30" fill="#f6af8e"/>
<rect x="1277.28" y="821.60" width="215.72" height="78.30" fill="#f8bb9e"/>
<rect x="1298.85" y="821.60" width="194.15" height="78.30" fill="#f6b293"/>
<rect x="1320.42" y="821.60" width="172.58" height="78.30" fill="#fae9df"/>
<rect x="1342.00" y="821.60" width="151.00" height="78.30" fill="#fcd3bd"/>
<rect x="1363.57" y="821.60" width="129.43" height="78.30" fill="#e37e64"/>
<rect x="1385.14" y="821.60" width="107.86" height="78.30" fill="#f9ede6"/>
<rect x="1406.71" y="821.60" width="86.29" height="78.30" fill="#f8bfa3"/>
<rect x="1428.28" y="821.60" width="64.72" height="78.30" fill="#fbe3d5"/>
<rect x="1449.86" y="821.60" width="43.14" height="78.30" fill="#f7b495"/>
<rect x="1471.43" y="821.60" width="21.57" height="78.30" fill="#fddbc7"/>
</g>
<rect x="43" y="426.30" width="1450.00" height="1.4" fill="#000" fill-opacity="0.1"/>
<rect x="43" y="505.22" width="1450.00" height="1.4" fill="#000" fill-opacity="0.1"/>
<rect x="43" y="584.14" width="1450.00" height="1.4" fill="#000" fill-opacity="0.1"/>
<rect x="43" y="663.06" width="1450.00" height="1.4" fill="#000" fill-opacity="0.1"/>
<rect x="43" y="741.98" width="1450.00" height="1.4" fill="#000" fill-opacity="0.1"/>
<rect x="43" y="820.90" width="1450.00" height="1.4" fill="#000" fill-opacity="0.1"/>
</svg></body></html>
